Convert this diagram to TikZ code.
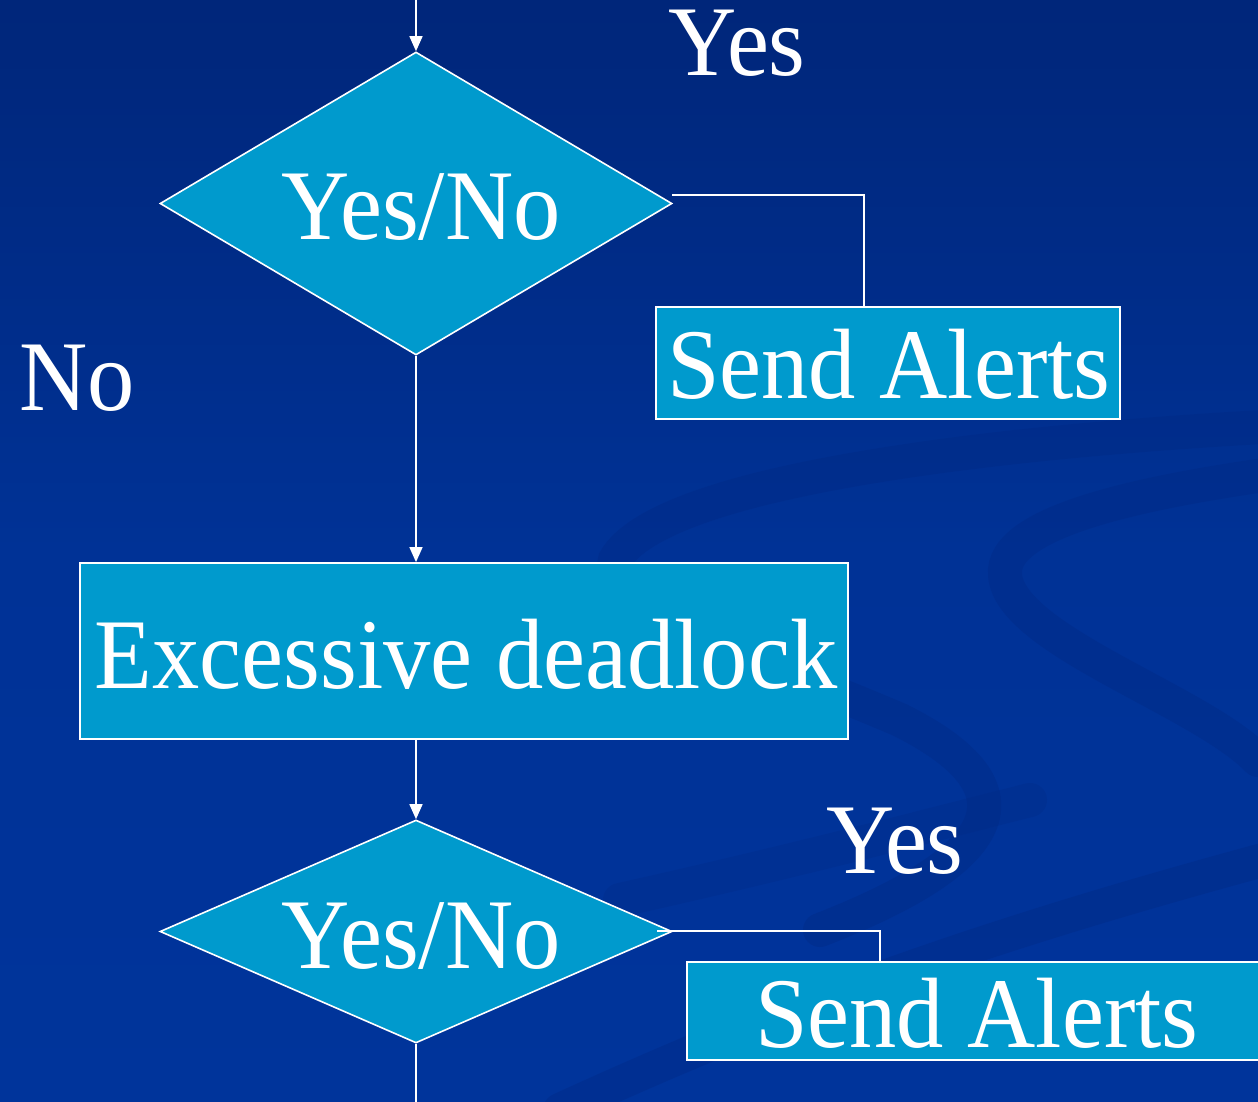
\documentclass[tikz,border=0pt]{standalone}
\usepackage{fontspec}
\setmainfont{Liberation Serif}[FakeStretch=0.945]
\usetikzlibrary{shapes.geometric,arrows.meta,calc}
\definecolor{bgtop}{RGB}{0,38,122}
\definecolor{bgmid}{RGB}{0,50,150}
\definecolor{bgbot}{RGB}{0,52,155}
\definecolor{swirl}{RGB}{0,40,130}
\definecolor{boxfill}{RGB}{0,154,205}
\tikzset{
  dia/.style={diamond, draw=white, line width=1.6pt, fill=boxfill, inner sep=0pt},
  rbox/.style={rectangle, draw=white, line width=1.8pt, fill=boxfill, inner sep=0pt},
  txt/.style={text=white, font=\fontsize{100pt}{100pt}\selectfont, inner sep=0pt, anchor=base},
  ln/.style={draw=white, line width=1.5pt},
  arr/.style={ln, -{Triangle[length=15pt,width=13pt]}},
  sw/.style={swirl, line width=34pt, opacity=0.35, line cap=round}
}
\begin{document}
\begin{tikzpicture}[x=1pt,y=-1pt]
\useasboundingbox (0,0) rectangle (1258,1102);
% background
\shade[top color=bgtop, bottom color=bgbot, middle color=bgmid] (0,0) rectangle (1258,1102);
% faint swirls
\begin{scope}
\clip (0,0) rectangle (1258,1102);
\draw[sw] (1300,425) .. controls (1000,440) and (660,480) .. (615,560) .. controls (600,610) and (760,660) .. (900,720) .. controls (1040,790) and (1000,860) .. (820,930);
\draw[sw] (1300,470) .. controls (1150,490) and (1000,520) .. (1005,575) .. controls (1010,640) and (1200,700) .. (1258,760);
\draw[sw] (560,1110) .. controls (800,1000) and (1000,930) .. (1300,850);
\draw[sw, opacity=0.25] (620,900) .. controls (800,860) and (950,820) .. (1030,800);
\end{scope}
% nodes
\coordinate (top) at (416,0);
\coordinate (bot) at (416,1102);
\node[dia, minimum width=512pt, minimum height=303pt] (d1) at (416,203.5) {};
\node[rbox, minimum width=464pt, minimum height=112pt] (sa1) at (888,363) {};
\node[rbox, minimum width=768pt, minimum height=176pt] (ed) at (464,651) {};
\node[dia, minimum width=512pt, minimum height=223pt] (d2) at (416,931.5) {};
\node[rbox, minimum width=580pt, minimum height=98pt] (sa2) at (977,1011) {};
\coordinate (k1) at (672,195);
\coordinate (k2) at (657,931);
% connectors
\draw[arr] (top) -- (d1.north);
\draw[ln] (k1) -| ([xshift=-24pt]sa1.north);
\draw[arr] (d1.south) -- (d1.south |- ed.north);
\draw[arr] (ed.south -| d2.north) -- (d2.north);
\draw[ln] (k2) -| ([xshift=-97pt]sa2.north);
\draw[ln] (d2.south) -- (bot);
% texts
\node[txt] (yes1) at (737,76) {Yes};
\node[txt] (no) at (77,410) {No};
\node[txt] (t1) at (421,240) {Yes/No};
\node[txt] (tsa1) at (889,398) {Send Alerts};
\node[txt] (ted) at (466,688) {Excessive deadlock};
\node[txt] (yes2) at (895,873) {Yes};
\node[txt] (t2) at (421,968) {Yes/No};
\node[txt] (tsa2) at (977,1047) {Send Alerts};
\end{tikzpicture}
\end{document}
